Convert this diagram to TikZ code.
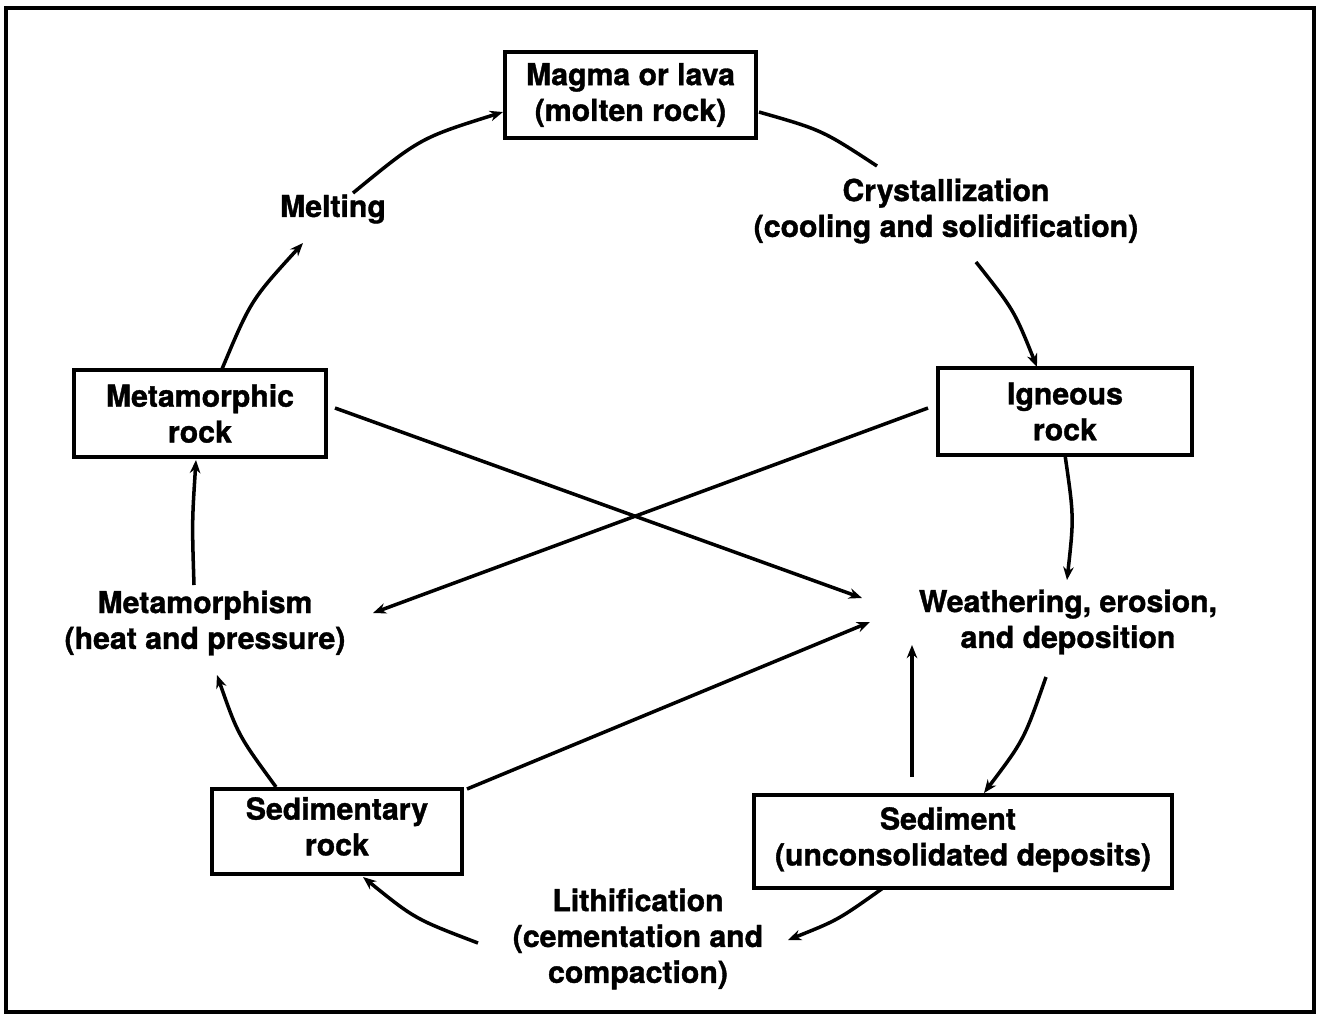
\documentclass[tikz,border=0pt]{standalone}
\usepackage{fontspec}
\setmainfont{TeX Gyre Heros}[BoldFeatures={FakeBold=1.2}]
\usetikzlibrary{arrows.meta,calc}
\begin{document}
\begin{tikzpicture}[x=0.02cm,y=-0.02cm,
  every node/.style={font=\fontsize{17.2}{20.4}\selectfont\bfseries, align=center, inner sep=0pt},
  rockbox/.style={draw, line width=1.9pt},
  link/.style={line width=2pt, -{Stealth[length=7.5pt,width=6pt]}},
  plainlink/.style={line width=2pt}]
\useasboundingbox (0,0) rectangle (1320,1019);
\draw[line width=1.9pt] (6,8) rectangle (1314,1012);

% boxes
\node[rockbox, minimum width=5.02cm, minimum height=1.72cm] (magma) at (630.5,95) {Magma or lava\\(molten rock)};
\node[rockbox, minimum width=5.04cm, minimum height=1.74cm] (metarock) at (200,413.5) {Metamorphic\\rock};
\node[rockbox, minimum width=5.08cm, minimum height=1.74cm] (igneous) at (1065,411.5) {Igneous\\rock};
\node[rockbox, minimum width=5.0cm, minimum height=1.7cm] (sedrock) at (337,831.5) {Sedimentary\\rock\rule[-6pt]{0pt}{0pt}};
\node[rockbox, minimum width=8.36cm, minimum height=1.86cm] (sediment) at (963,841.5) {Sediment\kern0.6cm\\(unconsolidated deposits)\rule[-6pt]{0pt}{0pt}};

% process labels
\node (melt) at (333,209) {Melting};
\node (cryst) at (946,211) {Crystallization\\(cooling and solidification)};
\node (weath) at (1068,622) {Weathering, erosion,\\and deposition};
\node (metam) at (205,623) {Metamorphism\\(heat and pressure)};
\node (lith) at (638,939) {Lithification\\(cementation and\\compaction)};

% cycle connectors
\draw[link] ($(metarock)+(22,-44.5)$) .. controls (251,300) .. ($(melt)+(-30,34)$);
\draw[link] ($(melt)+(20,-16)$) .. controls (420,138) .. ($(magma)+(-127.5,17)$);
\draw[plainlink] ($(magma)+(128.5,17)$) .. controls (822,130) .. ($(cryst)+(-69,-45)$);
\draw[link] ($(cryst)+(30,51)$) .. controls (1014,310) .. ($(igneous)+(-28,-44.5)$);
\draw[link] ($(igneous)+(0,43.5)$) .. controls (1074,517) .. ($(weath)+(-1,-42)$);
\draw[link] ($(weath)+(-22,55)$) .. controls (1024,740) .. ($(sediment)+(21,-48.5)$);
\draw[link] ($(sediment)+(-51,-64.5)$) -- ($(weath)+(-156,23)$);
\draw[link] ($(sediment)+(-80,46.5)$) .. controls (838,920) .. ($(lith)+(150,1)$);
\draw[link] ($(lith)+(-160,4)$) .. controls (415,919) .. ($(sedrock)+(26,45.5)$);
\draw[link] ($(sedrock)+(-61,-44.5)$) .. controls (238,735) .. ($(metam)+(12,52)$);
\draw[link] ($(metam)+(-11,-38)$) .. controls (192,522) .. ($(metarock)+(-4,46.5)$);

% cross connectors
\draw[link] ($(sedrock)+(130,-42.5)$) -- ($(weath)+(-198,0)$);
\draw[link] ($(metarock)+(135,-5.5)$) -- ($(weath)+(-206,-24)$);
\draw[link] ($(igneous)+(-137,-3.5)$) -- ($(metam)+(168,-10)$);
\end{tikzpicture}
\end{document}
